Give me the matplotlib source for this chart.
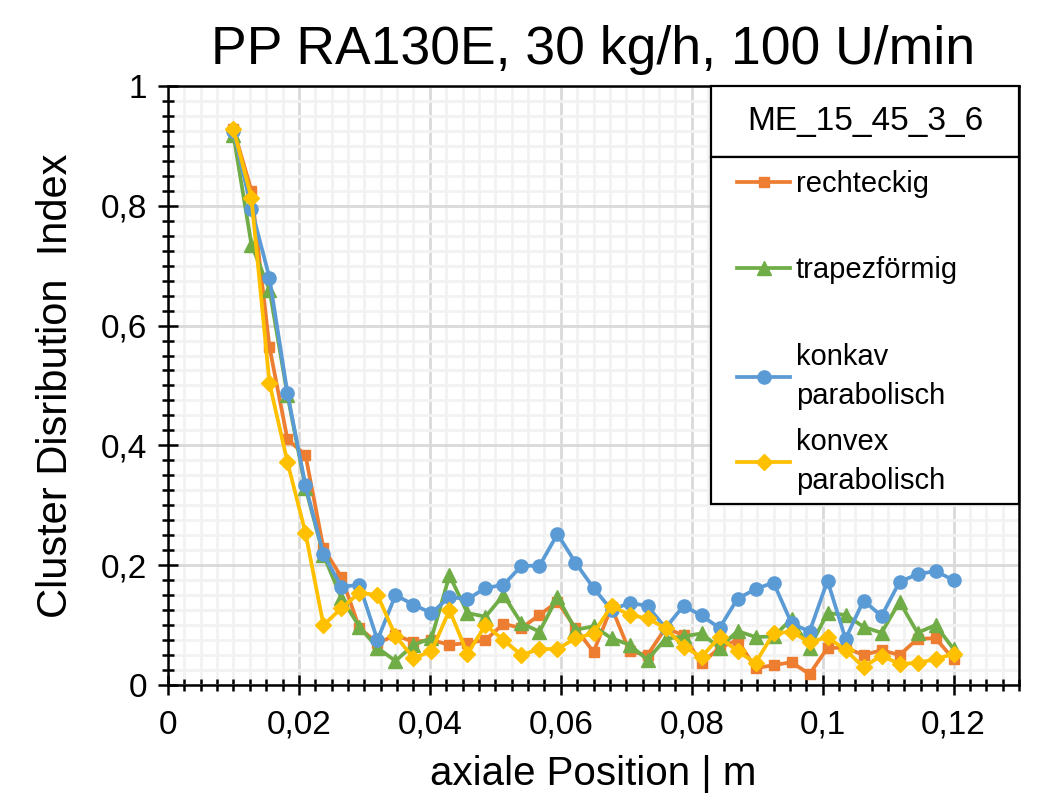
import matplotlib
matplotlib.use('Agg')
import numpy as np
from matplotlib import pyplot as plt
from matplotlib import font_manager
from matplotlib.patches import Rectangle
from matplotlib.ticker import MultipleLocator, FuncFormatter

plt.rcParams['font.family'] = ['Liberation Sans', 'DejaVu Sans']
names = {f.name for f in font_manager.fontManager.ttflist}
narrow = 'Liberation Sans Narrow' if 'Liberation Sans Narrow' in names else 'Liberation Sans'

# axial positions, 41 points from 0.01 m to 0.12 m
x_start = 0.01
x_step = 0.00275
n_points = 41
x_pos = [round(x_start + x_step * i, 5) for i in range(n_points)]

rechteckig = [0.928, 0.825, 0.564, 0.410, 0.384, 0.228, 0.180, 0.095, 0.070, 0.083,
              0.072, 0.075, 0.067, 0.070, 0.075, 0.102, 0.095, 0.117, 0.139, 0.095,
              0.055, 0.130, 0.056, 0.050, 0.095, 0.083, 0.036, 0.062, 0.075, 0.028,
              0.033, 0.038, 0.018, 0.062, 0.062, 0.050, 0.058, 0.050, 0.077, 0.078,
              0.043]
trapezfoermig = [0.918, 0.735, 0.660, 0.484, 0.329, 0.217, 0.145, 0.097, 0.062, 0.040,
                 0.067, 0.078, 0.183, 0.120, 0.114, 0.150, 0.103, 0.089, 0.147, 0.092,
                 0.098, 0.078, 0.067, 0.042, 0.077, 0.081, 0.086, 0.062, 0.090, 0.080,
                 0.081, 0.110, 0.062, 0.120, 0.117, 0.097, 0.087, 0.139, 0.087, 0.100,
                 0.060]
konkav = [0.925, 0.795, 0.680, 0.487, 0.333, 0.218, 0.164, 0.167, 0.075, 0.150,
          0.134, 0.120, 0.147, 0.143, 0.162, 0.167, 0.199, 0.199, 0.252, 0.204,
          0.162, 0.125, 0.137, 0.132, 0.095, 0.132, 0.116, 0.095, 0.144, 0.160,
          0.171, 0.103, 0.089, 0.174, 0.077, 0.141, 0.115, 0.172, 0.185, 0.190,
          0.175]
konvex = [0.928, 0.813, 0.504, 0.372, 0.254, 0.100, 0.128, 0.154, 0.150, 0.082,
          0.045, 0.056, 0.125, 0.052, 0.100, 0.075, 0.050, 0.060, 0.060, 0.078,
          0.086, 0.132, 0.117, 0.111, 0.095, 0.064, 0.047, 0.080, 0.056, 0.037,
          0.086, 0.089, 0.071, 0.080, 0.058, 0.030, 0.049, 0.035, 0.037, 0.043,
          0.052]

series = [
    ('rechteckig', rechteckig, '#ED7D31', 's', 7.5),
    ('trapezförmig', trapezfoermig, '#70AD47', '^', 10),
    ('konkav\nparabolisch', konkav, '#5B9BD5', 'o', 9.5),
    ('konvex\nparabolisch', konvex, '#FFC000', 'D', 8),
]
legend_title = 'ME_15_45_3_6'

fig = plt.figure(figsize=(10.46, 7.96), dpi=100)
ax = fig.add_axes([0.1606, 0.1395, 0.8136, 0.7525])

handles = []
for label, vals, color, marker, ms in series:
    ln, = ax.plot(x_pos, vals, color=color, marker=marker, markersize=ms,
                  linewidth=2.7, label=label, zorder=3)
    handles.append(ln)

ax.set_xlim(0, 0.13)
ax.set_ylim(0, 1)
ax.xaxis.set_major_locator(MultipleLocator(0.02))
ax.xaxis.set_minor_locator(MultipleLocator(0.0025))
ax.yaxis.set_major_locator(MultipleLocator(0.2))
ax.yaxis.set_minor_locator(MultipleLocator(0.025))

comma = FuncFormatter(lambda v, p: f'{v:g}'.replace('.', ','))
ax.xaxis.set_major_formatter(comma)
ax.yaxis.set_major_formatter(comma)

ax.grid(which='minor', color='#f2f2f2', linewidth=2.0, zorder=0)
ax.grid(which='major', color='#d9d9d9', linewidth=2.0, zorder=0)
ax.set_axisbelow(True)

ax.tick_params(which='major', direction='inout', length=14, width=1.8,
               labelsize=24, pad=8)
ax.tick_params(axis='x', which='major', pad=11)
ax.tick_params(which='minor', direction='inout', length=9, width=1.8)
for lbl in ax.get_xticklabels() + ax.get_yticklabels():
    lbl.set_family(narrow)
for sp in ax.spines.values():
    sp.set_linewidth(1.8)
    sp.set_color('black')

ax.set_xlabel('axiale Position | m', fontsize=29, family=narrow, labelpad=10)
ax.set_ylabel('Cluster Disribution  Index', fontsize=30, labelpad=18)
ax.set_title('PP RA130E, 30 kg/h, 100 U/min', fontsize=38.5, pad=16)

# legend: title box on top, entries box below (Excel style)
lx0, ldiv, lbot = 0.638, 0.8815, 0.302
ax.add_patch(Rectangle((lx0, ldiv), 1 - lx0, 1 - ldiv, transform=ax.transAxes,
                       facecolor='white', edgecolor='black', linewidth=1.6,
                       zorder=4.5, clip_on=False))
ax.add_patch(Rectangle((lx0, lbot), 1 - lx0, ldiv - lbot, transform=ax.transAxes,
                       facecolor='white', edgecolor='black', linewidth=1.6,
                       zorder=4.5, clip_on=False))
ax.text((lx0 + 1) / 2, (ldiv + 1) / 2, legend_title, transform=ax.transAxes,
        ha='center', va='center', fontsize=24, zorder=5)

leg_kw = dict(loc='upper left', fontsize=21, frameon=False, handlelength=1.8,
              handletextpad=0.2, borderpad=0, borderaxespad=0)
leg1 = ax.legend(handles=handles[:3], bbox_to_anchor=(0.669, 0.8598),
                 labelspacing=2.0, **leg_kw)
leg1.set_zorder(6)
for t in leg1.get_texts():
    t.set_linespacing(1.5)
ax.add_artist(leg1)
leg2 = ax.legend(handles=handles[3:], bbox_to_anchor=(0.669, 0.429), **leg_kw)
leg2.set_zorder(6)
for t in leg2.get_texts():
    t.set_linespacing(1.5)

fig.savefig('out.png', dpi=100)
